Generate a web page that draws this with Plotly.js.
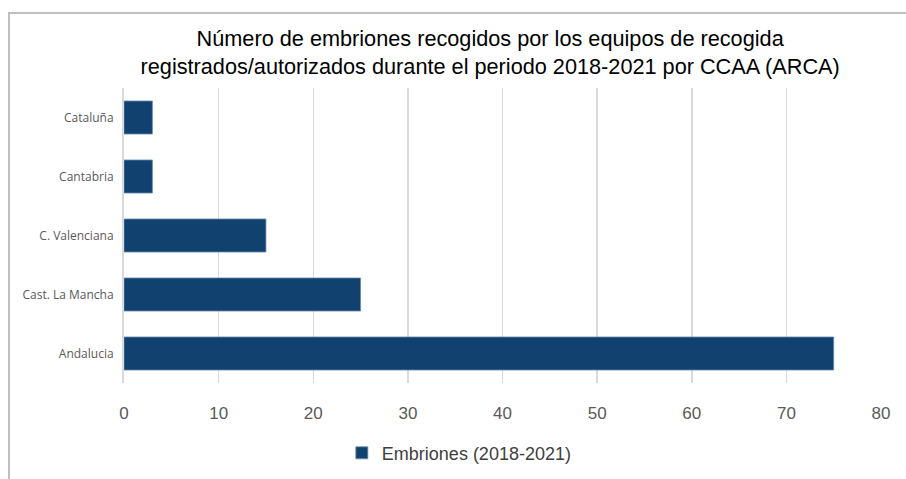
<!DOCTYPE html>
<html><head><meta charset="utf-8">
<script src="https://cdn.plot.ly/plotly-3.0.1.min.js"></script>
<style>html,body{margin:0;padding:0;background:#fff;}#wrap{position:relative;width:906px;height:479px;}
#frame{position:absolute;left:8px;top:12px;width:898px;height:467px;border-top:2px solid #bfbfbf;border-left:2px solid #bfbfbf;box-sizing:border-box;pointer-events:none;}
</style></head><body>
<div id="wrap"><div id="chart" style="width:906px;height:479px;"></div><div id="frame"></div></div>
<script>
const categories = ["Andalucia", "Cast. La Mancha", "C. Valenciana", "Cantabria", "Cataluña"];
const embriones = [75, 25, 15, 3, 3];
const xTicks = [0, 10, 20, 30, 40, 50, 60, 70, 80];
const seriesName = "Embriones (2018-2021)";
const titleText = "Número de embriones recogidos por los equipos de recogida<br>registrados/autorizados durante el periodo 2018-2021 por CCAA (ARCA)";

const trace = {
  type: "bar", orientation: "h",
  x: embriones, y: categories, name: seriesName,
  marker: {color: "#10416f", line: {color: "#6a8cb3", width: 0.8}},
  hoverinfo: "x+y"
};
const layout = {
  width: 906, height: 479,
  paper_bgcolor: "#fff", plot_bgcolor: "#fff",
  margin: {l: 124, r: 25, t: 88, b: 96, autoexpand: false},
  title: {text: titleText, x: 0.541, xanchor: "center", yref: "container", y: 0.904, yanchor: "middle",
    font: {family: "Liberation Sans, Arial, sans-serif", size: 21.7, color: "#000"}},
  bargap: 0.44,
  showlegend: true,
  legend: {orientation: "h", x: 0.507, xanchor: "center", xref: "container", yref: "container", y: 0.054, yanchor: "middle",
    font: {family: "Liberation Sans, sans-serif", size: 18, color: "#404040"}, itemwidth: 30},
  xaxis: {range: [0, 80], tickvals: xTicks, ticktext: xTicks.map(String), showgrid: true, gridcolor: "#d9d9d9", gridwidth: 1.5,
    zeroline: false, showline: false, ticks: "", ticklen: 0, ticklabelstandoff: 18,
    tickfont: {family: "Liberation Sans, sans-serif", size: 17, color: "#595959"}, fixedrange: true},
  yaxis: {showline: true, linecolor: "#d9d9d9", linewidth: 2, ticks: "", ticklen: 0, ticklabelstandoff: 6,
    tickfont: {family: "Open Sans, sans-serif", size: 12, color: "#595959"}, automargin: false, fixedrange: true}
};
Plotly.newPlot("chart", [trace], layout, {displayModeBar: false, staticPlot: true});
</script></body></html>
